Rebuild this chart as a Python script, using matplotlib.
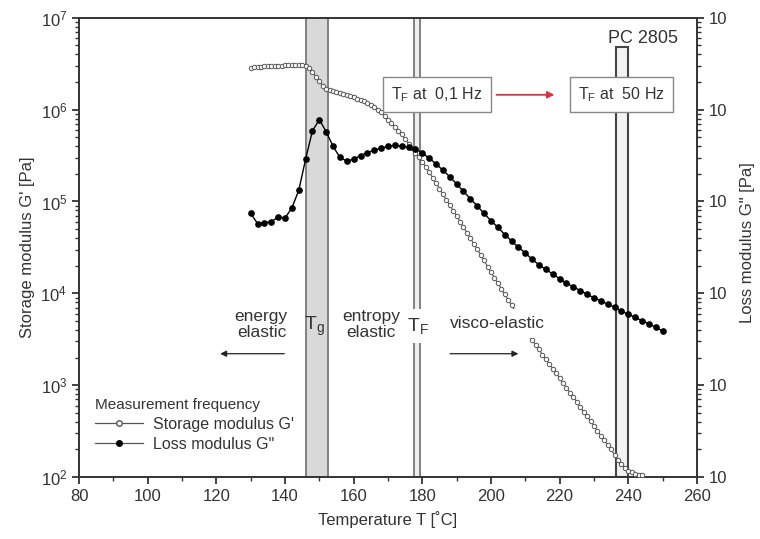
import matplotlib
matplotlib.use("Agg")
import matplotlib.pyplot as plt
import numpy as np
from matplotlib.lines import Line2D
from matplotlib.patches import Rectangle
from matplotlib.ticker import FuncFormatter, LogLocator, MultipleLocator

plt.rcParams['font.family'] = ['Liberation Sans', 'DejaVu Sans']
plt.rcParams['mathtext.fontset'] = 'custom'
plt.rcParams['mathtext.rm'] = 'Liberation Sans'
plt.rcParams['mathtext.it'] = 'Liberation Sans:italic'

# Storage modulus G' (log10 Pa), 1 K steps from 130 to 244 C
gp_temp = np.arange(130, 245, 1)
gp_log = [6.455, 6.46, 6.46, 6.465, 6.47, 6.47, 6.475, 6.48, 6.48, 6.48,
          6.485, 6.485, 6.49, 6.49, 6.49, 6.485, 6.47, 6.45, 6.41, 6.36,
          6.31, 6.26, 6.23, 6.21, 6.20, 6.19, 6.18, 6.17, 6.16, 6.15,
          6.14, 6.12, 6.11, 6.09, 6.07, 6.05, 6.03, 6.00, 5.97, 5.93,
          5.89, 5.85, 5.81, 5.77, 5.73, 5.68, 5.63, 5.58, 5.53, 5.48,
          5.43, 5.38, 5.32, 5.26, 5.20, 5.14, 5.08, 5.02, 4.96, 4.90,
          4.84, 4.78, 4.72, 4.66, 4.60, 4.54, 4.48, 4.42, 4.36, 4.29,
          4.23, 4.17, 4.11, 4.05, 3.99, 3.93, 3.87, 3.81, 3.74, 3.68,
          3.62, 3.55, 3.49, 3.44, 3.39, 3.33, 3.28, 3.23, 3.18, 3.13,
          3.08, 3.02, 2.97, 2.92, 2.87, 2.82, 2.76, 2.71, 2.66, 2.61,
          2.56, 2.50, 2.45, 2.40, 2.35, 2.30, 2.24, 2.19, 2.14, 2.10,
          2.07, 2.05, 2.03, 2.02, 2.02]

# Loss modulus G'' (log10 Pa), 2 K steps from 130 to 250 C
gpp_temp = np.arange(130, 251, 2)
gpp_log = [4.87, 4.76, 4.77, 4.78, 4.83, 4.82, 4.93, 5.12, 5.46, 5.77,
           5.89, 5.76, 5.60, 5.48, 5.44, 5.46, 5.50, 5.53, 5.56, 5.58,
           5.60, 5.61, 5.60, 5.59, 5.57, 5.53, 5.47, 5.41, 5.34, 5.27,
           5.19, 5.11, 5.03, 4.95, 4.87, 4.79, 4.72, 4.64, 4.57, 4.50,
           4.44, 4.37, 4.31, 4.26, 4.21, 4.16, 4.11, 4.07, 4.03, 3.99,
           3.95, 3.92, 3.88, 3.85, 3.81, 3.77, 3.74, 3.70, 3.67, 3.63,
           3.59]

tg_band = (146, 152.5)
tf_band = (177.5, 179.2)
tf50_band = (236.3, 240.0)
tf50_top = 4.8e6

txt = '#333333'

fig = plt.figure(figsize=(7.6, 5.39), dpi=100)
ax = fig.add_axes([0.104, 0.115, 0.813, 0.852])
ax.set_xlim(80, 260)
ax.set_yscale('log')
ax.set_ylim(1e2, 1e7)

# transition bands
ax.axvspan(*tg_band, facecolor='#d9d9d9', edgecolor='#808080', lw=1.4, zorder=1)
ax.axvspan(*tf_band, facecolor='#eeeeee', edgecolor='#808080', lw=1.4, zorder=1)
ax.add_patch(Rectangle((tf50_band[0], 1e2), tf50_band[1] - tf50_band[0], tf50_top - 1e2,
                       facecolor='#f3f3f3', edgecolor='#444444', lw=1.5, zorder=1))

# data
ax.plot(gp_temp, 10 ** np.array(gp_log), color='#555555', lw=0.8, marker='o', ms=3.2,
        mfc='white', mec='#555555', mew=0.7, zorder=3)
ax.plot(gpp_temp, 10 ** np.array(gpp_log), color='black', lw=1.0, marker='o', ms=3.8,
        mfc='black', mec='black', zorder=3)

# annotations
ax.text(244.3, 5.9e6, 'PC 2805', fontsize=13, color=txt, ha='center', va='center', zorder=6)
box = dict(boxstyle='square,pad=0.5', facecolor='white', edgecolor='#888888', lw=1.0)
ax.text(184.3, 1.45e6, r'T$_\mathrm{F}$ at  0,1 Hz', fontsize=11.5, color=txt,
        ha='center', va='center', bbox=box, zorder=6)
ax.text(238.0, 1.45e6, r'T$_\mathrm{F}$ at  50 Hz', fontsize=11.5, color=txt,
        ha='center', va='center', bbox=box, zorder=6)
ax.annotate('', xy=(219.3, 1.45e6), xytext=(200.8, 1.45e6),
            arrowprops=dict(arrowstyle='-|>', color='#e03040', lw=1.3, mutation_scale=10), zorder=6)

ax.text(140.6, 4.6e3, 'energy\nelastic', fontsize=12.5, color=txt, ha='right', va='center',
        linespacing=1.05, zorder=6)
ax.annotate('', xy=(120.3, 2.2e3), xytext=(140.6, 2.2e3),
            arrowprops=dict(arrowstyle='-|>', color='#222222', lw=0.9, mutation_scale=9), zorder=6)
ax.text(148.5, 4.4e3, r'T$_\mathrm{g}$', fontsize=14, color=txt, ha='center', va='center', zorder=6)
ax.text(165.0, 4.6e3, 'entropy\nelastic', fontsize=12.5, color=txt, ha='center', va='center',
        linespacing=1.05, zorder=6)
ax.text(178.6, 4.4e3, r'T$_\mathrm{F}$', fontsize=14, color=txt, ha='center', va='center',
        bbox=dict(boxstyle='square,pad=0.35', facecolor='white', edgecolor='none'), zorder=6)
ax.text(202.0, 4.7e3, 'visco-elastic', fontsize=12.5, color=txt, ha='center', va='center',
        bbox=dict(boxstyle='square,pad=0.4', facecolor='white', edgecolor='none'), zorder=6)
ax.annotate('', xy=(208.8, 2.2e3), xytext=(187.3, 2.2e3),
            arrowprops=dict(arrowstyle='-|>', color='#222222', lw=0.9, mutation_scale=9), zorder=6)

# legend
handles = [Line2D([], [], color='#555555', lw=0.9, marker='o', ms=4, mfc='white', mec='#555555'),
           Line2D([], [], color='#555555', lw=0.9, marker='o', ms=4, mfc='black', mec='black')]
leg = ax.legend(handles, ["Storage modulus G'", 'Loss modulus G"'], title='Measurement frequency',
                loc='lower left', bbox_to_anchor=(0.0, 0.02), frameon=False, fontsize=11.5,
                title_fontsize=11, handlelength=3.0, handletextpad=0.6, labelspacing=0.3,
                alignment='left', borderaxespad=0.6)
for t in leg.get_texts():
    t.set_color(txt)
leg.get_title().set_color(txt)

# axes styling
for s in ax.spines.values():
    s.set_color('#333333')
    s.set_linewidth(1.4)
ax.xaxis.set_major_locator(MultipleLocator(20))
ax.xaxis.set_minor_locator(MultipleLocator(10))
ax.yaxis.set_major_locator(LogLocator(base=10, numticks=10))
ax.yaxis.set_minor_locator(LogLocator(base=10, subs=np.arange(2, 10), numticks=10))
ax.tick_params(which='major', direction='out', length=5, width=1.3, color='#333333',
               labelsize=12, labelcolor=txt)
ax.tick_params(which='minor', direction='out', length=3, width=1.0, color='#333333')
ax.yaxis.set_minor_formatter(FuncFormatter(lambda v, p: ''))
ax.set_xlabel('Temperature T [˚C]', fontsize=12, color=txt, labelpad=5)
ax.set_ylabel("Storage modulus G' [Pa]", fontsize=12, color=txt, labelpad=4)

ax2 = ax.twinx()
ax2.set_yscale('log')
ax2.set_ylim(1e2, 1e7)
ax2.yaxis.set_major_locator(LogLocator(base=10, numticks=10))
ax2.yaxis.set_minor_locator(LogLocator(base=10, subs=np.arange(2, 10), numticks=10))
ax2.yaxis.set_major_formatter(FuncFormatter(lambda v, p: '10'))
ax2.yaxis.set_minor_formatter(FuncFormatter(lambda v, p: ''))
ax2.tick_params(which='major', direction='out', length=5, width=1.3, color='#333333',
                labelsize=12, labelcolor=txt)
ax2.tick_params(which='minor', direction='out', length=3, width=1.0, color='#333333')
for s in ax2.spines.values():
    s.set_visible(False)
fig.text(0.983, 0.55, 'Loss modulus G" [Pa]', rotation=90, fontsize=12, color=txt,
         ha='center', va='center')

fig.savefig('out.png', dpi=100, facecolor='white')
